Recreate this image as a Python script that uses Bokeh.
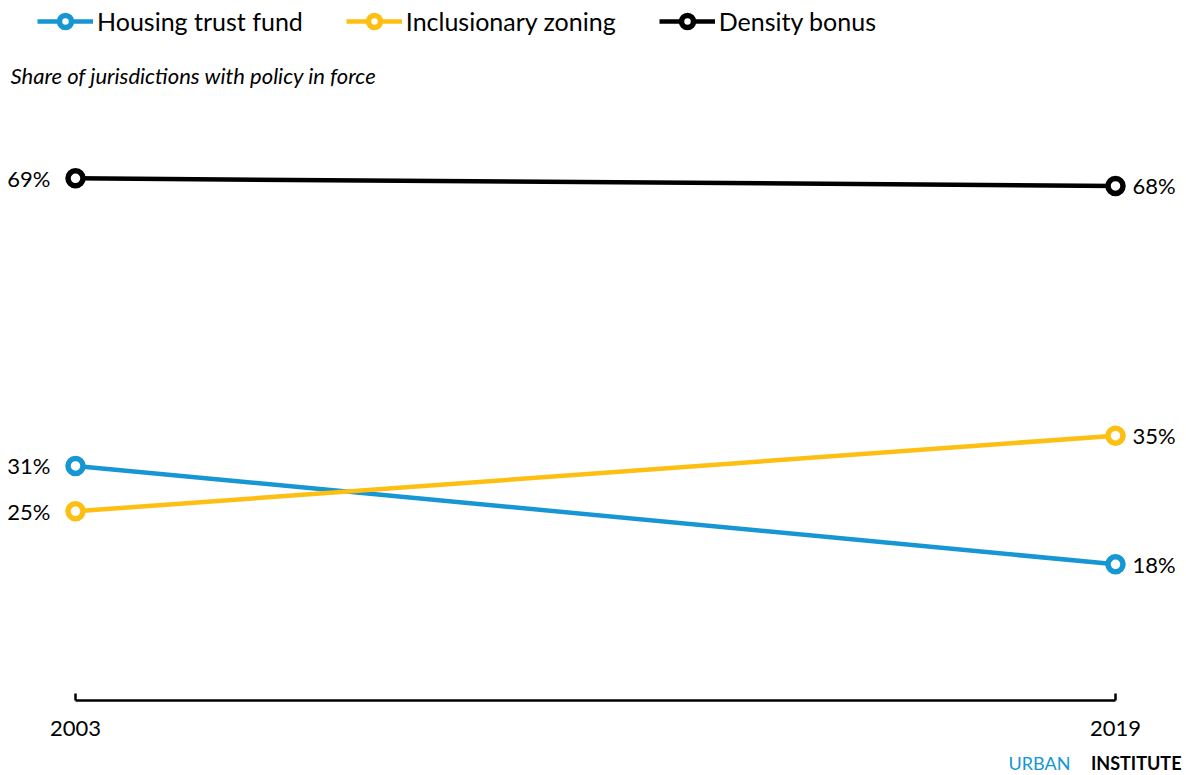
from bokeh.plotting import figure
from bokeh.models import Range1d, FixedTicker, Legend, LegendItem, Label, ColumnDataSource, LinearAxis
from bokeh.core.properties import value
from bokeh.embed import file_html
from bokeh.resources import INLINE

years = [2003, 2019]
series_names = ["Housing trust fund", "Inclusionary zoning", "Density bonus"]
housing_trust_fund = [31, 18]
inclusionary_zoning = [25, 35]
density_bonus = [69, 68]
colors = ["#1696d2", "#fdbf11", "#000000"]
subtitle = "Share of jurisdictions with policy in force"

W, H = 1186, 775
AXIS_PY = 700
PX_PER_YEAR = 65.0
X_START = years[0] - 75 / PX_PER_YEAR
X_END = X_START + W / PX_PER_YEAR
PX_PER_UNIT = 700 / 92.5
Y_START = -(H - AXIS_PY) / PX_PER_UNIT
Y_END = AXIS_PY / PX_PER_UNIT


def px_x(px):
    return X_START + px / PX_PER_YEAR


def px_y(py):
    return (AXIS_PY - py) / PX_PER_UNIT


p = figure(width=W, height=H, output_backend="svg", toolbar_location=None,
           x_range=Range1d(X_START, X_END), y_range=Range1d(Y_START, Y_END),
           min_border_left=0, min_border_right=0, min_border_top=0, min_border_bottom=0,
           x_axis_location=None, y_axis_location=None)
p.outline_line_color = None
p.xgrid.visible = False
p.ygrid.visible = False
p.background_fill_color = "white"
p.border_fill_color = "white"

ax = LinearAxis(fixed_location=0)
ax.ticker = FixedTicker(ticks=years)
ax.bounds = (years[0], years[-1])
ax.axis_line_width = 2.5
ax.axis_line_color = "black"
ax.major_tick_in = 7
ax.major_tick_out = 0
ax.major_tick_line_width = 2.5
ax.minor_tick_line_color = None
ax.major_label_text_font = "Lato"
ax.major_label_text_font_size = "22px"
ax.major_label_text_color = "black"
ax.major_label_standoff = 20
p.add_layout(ax, "below")

items = []
for name, vals, col in zip(series_names, [housing_trust_fund, inclusionary_zoning, density_bonus], colors):
    src = ColumnDataSource(dict(x=years, y=vals))
    ln = p.line("x", "y", source=src, line_color=col, line_width=4.5)
    sc = p.scatter("x", "y", source=src, marker="circle", size=15, fill_color="white",
                   line_color=col, line_width=5.5)
    items.append(LegendItem(label=name, renderers=[ln, sc]))
    left = ColumnDataSource(dict(x=years[:1], y=vals[:1], lab=[f"{vals[0]}%"]))
    right = ColumnDataSource(dict(x=years[-1:], y=vals[-1:], lab=[f"{vals[-1]}%"]))
    p.text("x", "y", text="lab", source=left, text_align="right", text_baseline="middle",
           x_offset=-25, text_font=value("Lato"), text_font_size="22px", text_color="black")
    p.text("x", "y", text="lab", source=right, text_align="left", text_baseline="middle",
           x_offset=17, text_font=value("Lato"), text_font_size="22px", text_color="black")

legend = Legend(items=items, orientation="horizontal", location=(37, H - 6 - 30),
                glyph_width=56, glyph_height=30, label_standoff=4, spacing=43,
                padding=0, margin=0, border_line_color=None, background_fill_alpha=0,
                label_text_font="Lato", label_text_font_size="25px", label_text_color="black")
p.add_layout(legend)

p.add_layout(Label(x=px_x(10), y=px_y(75), text=subtitle, text_font="Lato",
                   text_font_style="italic", text_font_size="22px", text_color="black",
                   text_baseline="middle"))
p.add_layout(Label(x=px_x(1070), y=px_y(762), text="URBAN", text_font="Lato",
                   text_font_size="18px", text_color="#1696d2", text_baseline="middle",
                   text_align="right"))
p.add_layout(Label(x=px_x(1181), y=px_y(762), text="INSTITUTE", text_font="Lato",
                   text_font_style="bold", text_font_size="18px", text_color="black",
                   text_align="right", text_baseline="middle"))

open("out.html", "w").write(file_html(p, INLINE))
